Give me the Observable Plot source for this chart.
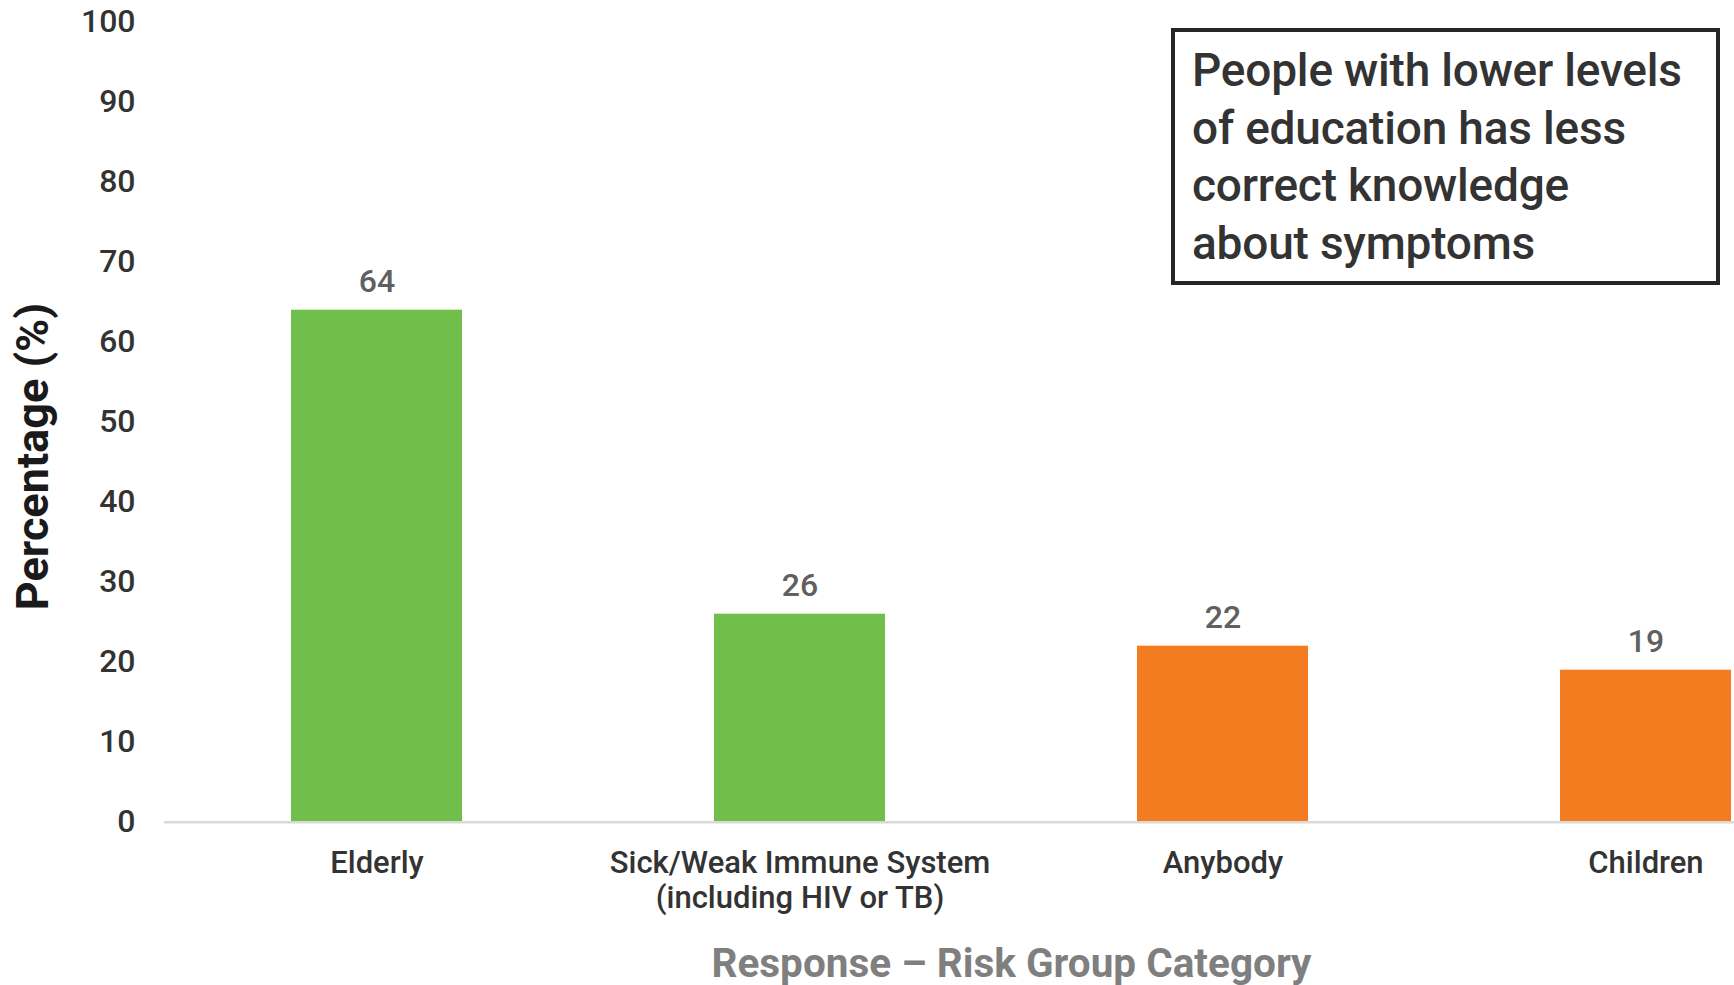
<!DOCTYPE html>
<html>
<head>
<meta charset="utf-8">
<script src="https://cdn.jsdelivr.net/npm/d3@7"></script>
<script src="https://cdn.jsdelivr.net/npm/@observablehq/plot@0.6"></script>
<style>
  html, body { margin: 0; padding: 0; background: #fff; overflow: hidden; }
  #wrap { position: relative; width: 1734px; height: 985px; }
  #note {
    position: absolute; left: 1171px; top: 28px; width: 541px; height: 249px;
    border: 4px solid #262626; box-sizing: content-box;
    font-family: Roboto, "Liberation Sans", sans-serif; font-size: 46px; font-weight: 500; line-height: 57.5px;
    color: #333; padding: 0; letter-spacing: -0.2px;
  }
  #note div { padding: 10px 0 0 17px; white-space: nowrap; }
</style>
</head>
<body>
<div id="wrap"><div id="note"><div>People with lower levels<br>of education has less<br>correct knowledge<br>about symptoms</div></div></div>
<script>
const categories = ["Elderly", "Sick/Weak Immune System\n(including HIV or TB)", "Anybody", "Children"];
const values = [64, 26, 22, 19];
const groups = ["correct", "correct", "other", "other"];
const groupColors = ["#70BF4A", "#F47C20"];
const yTicks = [0, 10, 20, 30, 40, 50, 60, 70, 80, 90, 100];
const yTitle = "Percentage (%)";
const xTitle = "Response \u2013 Risk Group Category";

const data = categories.map((c, i) => ({category: c, value: values[i], group: groups[i]}));

const W = 1734, H = 985;
const mL = 164, mT = 21.7, mB = 985 - 821.7;

const chart = Plot.plot({
  width: W, height: H,
  marginLeft: mL, marginRight: 0, marginTop: mT, marginBottom: mB,
  style: {fontFamily: "Roboto, 'Liberation Sans', sans-serif", color: "#333", background: "white", overflow: "hidden"},
  x: {domain: categories, range: [mL, 1857], paddingInner: 0.596, paddingOuter: 0.298, align: 0.5},
  y: {domain: [0, 100]},
  color: {domain: ["correct", "other"], range: groupColors},
  marks: [
    Plot.barY(data, {x: "category", y: "value", fill: "group"}),
    Plot.ruleY([0], {stroke: "#d9d9d9", strokeWidth: 2.5}),
    Plot.axisY({ticks: yTicks, tickSize: 0, tickPadding: 29, fontSize: 32, fontWeight: 500, label: null, fill: "#333"}),
    Plot.axisX({tickSize: 0, tickPadding: 25.5, fontSize: 31, fontWeight: 500, label: null, lineHeight: 1.13, fill: "#333"}),
    Plot.text(data, {x: "category", y: "value", text: d => String(d.value), dy: -28.5, lineAnchor: "middle", fontSize: 32, fontWeight: 500, fill: "#606060"}),
    Plot.text([yTitle], {frameAnchor: "left", dx: 33 - mL, dy: 456 - (mT + 821.7) / 2, rotate: -90, fontSize: 45, fontWeight: "bold", fill: "#1a1a1a", lineAnchor: "middle", textAnchor: "middle"}),
    Plot.text([xTitle], {frameAnchor: "bottom", dx: 1011 - (mL + W) / 2, dy: 964 - 821.7, fontSize: 40.5, fontWeight: "bold", fill: "#7f7f7f", lineAnchor: "middle", textAnchor: "middle"})
  ]
});
document.getElementById("wrap").prepend(chart);
</script>
</body>
</html>
